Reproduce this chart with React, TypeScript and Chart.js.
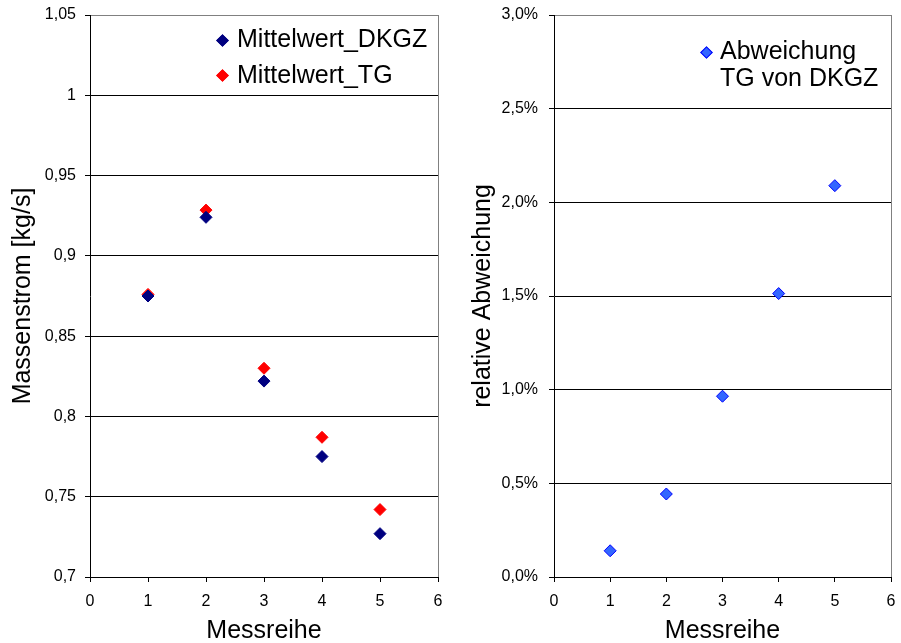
import React, { useEffect, useRef } from 'react';
import { Chart, registerables } from 'chart.js';

Chart.register(...registerables);

// ---- data ----
const messreihe = [1, 2, 3, 4, 5];
const mittelwertDKGZ = [0.875, 0.924, 0.822, 0.775, 0.727];
const mittelwertTG = [0.876, 0.9285, 0.83, 0.787, 0.742];
const abweichungProzent = [0.14, 0.443, 0.965, 1.513, 2.089];

const xTickValues = [0, 1, 2, 3, 4, 5, 6];
const leftYTickValues = [0.7, 0.75, 0.8, 0.85, 0.9, 0.95, 1, 1.05];
const leftYTickLabels = ['0,7', '0,75', '0,8', '0,85', '0,9', '0,95', '1', '1,05'];
const rightYTickValues = [0, 0.5, 1, 1.5, 2, 2.5, 3];
const rightYTickLabels = ['0,0%', '0,5%', '1,0%', '1,5%', '2,0%', '2,5%', '3,0%'];

const FONT = '"Liberation Sans", Arial, Helvetica, sans-serif';

const framePlugin = {
  id: 'frame',
  beforeDatasetsDraw(chart: any) {
    const { ctx, chartArea } = chart;
    ctx.save();
    ctx.strokeStyle = '#808080';
    ctx.lineWidth = 1;
    ctx.beginPath();
    const x = Math.round(chartArea.right) + 0.5;
    ctx.moveTo(x, chartArea.top);
    ctx.lineTo(x, chartArea.bottom);
    ctx.stroke();
    ctx.restore();
  },
};

function zeroPad(s: any) {
  s.paddingTop = 0;
  s.paddingBottom = 0;
  s.paddingLeft = 0;
  s.paddingRight = 0;
}

function makeOptions(
  yValues: number[],
  yLabels: string[],
  yTitle: string,
  yWidth: number,
  rightPad: number,
  yPad: number
): any {
  const yMin = yValues[0];
  const yMax = yValues[yValues.length - 1];
  return {
    responsive: false,
    animation: false,
    events: [],
    layout: { padding: { top: 15, right: rightPad, left: 0, bottom: 0 } },
    plugins: { legend: { display: false }, tooltip: { enabled: false } },
    scales: {
      x: {
        type: 'linear',
        min: xTickValues[0],
        max: xTickValues[xTickValues.length - 1],
        afterBuildTicks: (s: any) => {
          s.ticks = xTickValues.map((v) => ({ value: v }));
        },
        afterFit: (s: any) => {
          s.height = 66;
          zeroPad(s);
        },
        ticks: {
          color: '#000',
          font: { family: FONT, size: 16 },
          padding: 10,
          maxRotation: 0,
          callback: (v: any) => String(v),
        },
        grid: {
          drawOnChartArea: false,
          drawTicks: true,
          tickLength: 5,
          color: '#000',
          tickColor: '#000',
        },
        border: { display: true, color: '#000', width: 1 },
        title: {
          display: true,
          text: 'Messreihe',
          color: '#000',
          font: { family: FONT, size: 25 },
          padding: { top: 0, bottom: -3 },
        },
      },
      y: {
        type: 'linear',
        min: yMin,
        max: yMax,
        afterBuildTicks: (s: any) => {
          s.ticks = yValues.map((v) => ({ value: v }));
        },
        afterFit: (s: any) => {
          s.width = yWidth;
          zeroPad(s);
        },
        ticks: {
          color: '#000',
          font: { family: FONT, size: 16 },
          padding: yPad,
          callback: (v: any) => {
            const i = yValues.findIndex((t) => Math.abs(t - v) < 1e-9);
            return i >= 0 ? yLabels[i] : '';
          },
        },
        grid: {
          drawOnChartArea: true,
          drawTicks: true,
          tickLength: 5,
          color: (c: any) =>
            c.tick && Math.abs(c.tick.value - yMax) < 1e-9 ? '#808080' : '#000',
          tickColor: '#000',
          lineWidth: 1,
        },
        border: { display: true, color: '#000', width: 1 },
        title: {
          display: true,
          text: yTitle,
          color: '#000',
          font: { family: FONT, size: 25 },
          padding: { top: 8, bottom: 0 },
        },
      },
    },
  };
}

function LeftChart() {
  const ref = useRef<HTMLCanvasElement>(null);
  useEffect(() => {
    if (!ref.current) return;
    const chart = new Chart(ref.current, {
      type: 'scatter',
      data: {
        datasets: [
          {
            label: 'Mittelwert_DKGZ',
            data: messreihe.map((x, i) => ({ x, y: mittelwertDKGZ[i] })),
            pointStyle: 'rectRot',
            pointRadius: 6,
            backgroundColor: '#000080',
            borderColor: '#000080',
            borderWidth: 1,
          },
          {
            label: 'Mittelwert_TG',
            data: messreihe.map((x, i) => ({ x, y: mittelwertTG[i] })),
            pointStyle: 'rectRot',
            pointRadius: 6,
            backgroundColor: '#ff0000',
            borderColor: '#ff0000',
            borderWidth: 1,
          },
        ],
      },
      options: makeOptions(leftYTickValues, leftYTickLabels, 'Massenstrom [kg/s]', 90, 12, 9),
      plugins: [framePlugin],
    } as any);
    return () => chart.destroy();
  }, []);
  return (
    <canvas
      ref={ref}
      width={450}
      height={643}
      style={{ position: 'absolute', left: 0, top: 0, width: 450, height: 643 }}
    />
  );
}

function RightChart() {
  const ref = useRef<HTMLCanvasElement>(null);
  useEffect(() => {
    if (!ref.current) return;
    const chart = new Chart(ref.current, {
      type: 'scatter',
      data: {
        datasets: [
          {
            label: 'Abweichung TG von DKGZ',
            data: messreihe.map((x, i) => ({ x, y: abweichungProzent[i] })),
            pointStyle: 'rectRot',
            pointRadius: 6,
            backgroundColor: '#3366ff',
            borderColor: '#0000ff',
            borderWidth: 1,
          },
        ],
      },
      options: makeOptions(rightYTickValues, rightYTickLabels, 'relative Abweichung', 94, 10, 11),
      plugins: [framePlugin],
    } as any);
    return () => chart.destroy();
  }, []);
  return (
    <canvas
      ref={ref}
      width={441}
      height={643}
      style={{ position: 'absolute', left: 460, top: 0, width: 441, height: 643 }}
    />
  );
}

function Diamond({ x, y, fill, border }: { x: number; y: number; fill: string; border: string }) {
  return (
    <div
      style={{
        position: 'absolute',
        left: x - 4,
        top: y - 4,
        width: 7,
        height: 7,
        background: fill,
        border: `1px solid ${border}`,
        boxSizing: 'content-box',
        transform: 'rotate(45deg)',
        transformOrigin: '4.5px 4.5px',
      }}
    />
  );
}

const legendText: React.CSSProperties = {
  position: 'absolute',
  fontFamily: FONT,
  fontSize: 25,
  lineHeight: '27px',
  color: '#000',
  whiteSpace: 'nowrap',
};

export default function App() {
  return (
    <div
      style={{
        position: 'fixed',
        left: 0,
        top: 0,
        width: 901,
        height: 643,
        background: '#fff',
        overflow: 'hidden',
      }}
    >
      <LeftChart />
      <RightChart />
      {/* left legend */}
      <Diamond x={221.5} y={40} fill="#000080" border="#000080" />
      <div style={{ ...legendText, left: 237, top: 25 }}>Mittelwert_DKGZ</div>
      <Diamond x={221.5} y={75} fill="#ff0000" border="#ff0000" />
      <div style={{ ...legendText, left: 237, top: 61 }}>Mittelwert_TG</div>
      {/* right legend */}
      <Diamond x={705.5} y={51.5} fill="#3366ff" border="#0000ff" />
      <div style={{ ...legendText, left: 720, top: 37 }}>
        Abweichung
        <br />
        TG von DKGZ
      </div>
    </div>
  );
}
